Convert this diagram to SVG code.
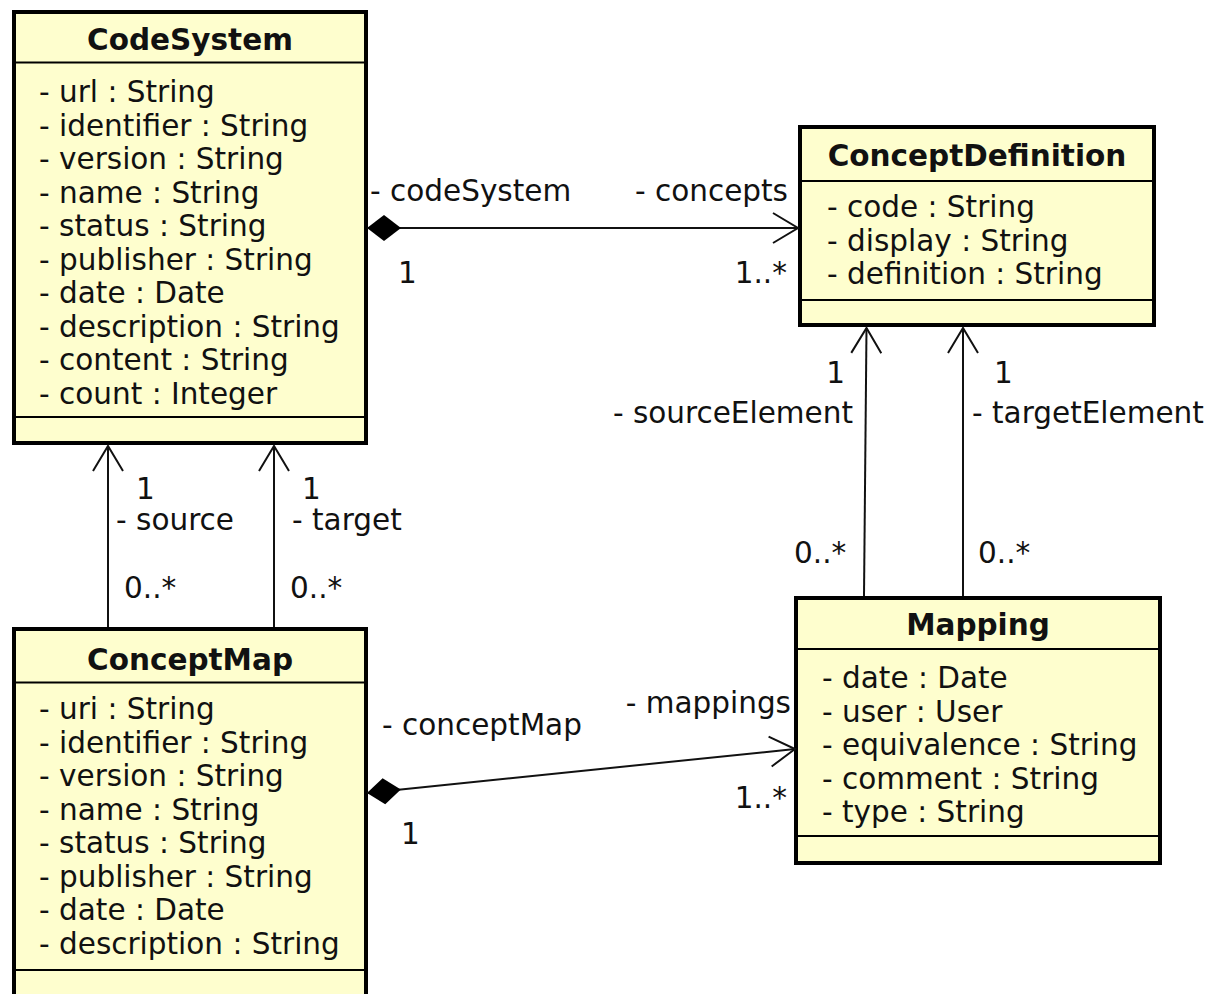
<svg xmlns="http://www.w3.org/2000/svg" width="1214" height="994" viewBox="0 0 1214 994">
<style>
.box{fill:#FEFECE;stroke:#000;stroke-width:4}
.sep{stroke:#000;stroke-width:2}
.title{font-family:"DejaVu Sans",sans-serif;font-weight:bold;font-size:29.5px;fill:#111;text-anchor:middle}
.attr{font-family:"DejaVu Sans",sans-serif;font-size:29.5px;fill:#111}
.lbl{font-family:"DejaVu Sans",sans-serif;font-size:29.5px;fill:#111}
.end{text-anchor:end}
.conn{stroke:#111;stroke-width:2;fill:none}
</style>
<defs>
<marker id="diamond" markerUnits="userSpaceOnUse" viewBox="-1 -15 38 30" markerWidth="38" markerHeight="30" refX="0" refY="0" orient="auto" overflow="visible">
<path d="M0,0 L17,-13 L34,0 L17,13 Z" fill="#000"/>
</marker>
<marker id="open" markerUnits="userSpaceOnUse" viewBox="-28 -17 30 34" markerWidth="30" markerHeight="34" refX="0" refY="0" orient="auto" overflow="visible">
<path d="M-25,-15 L0,0 L-25,15" fill="none" stroke="#111" stroke-width="2"/>
</marker>
</defs>

<g id="CodeSystem">
<rect class="box" x="14" y="12" width="352" height="431"/>
<line class="sep" x1="14" y1="62.5" x2="366" y2="62.5"/>
<line class="sep" x1="14" y1="417" x2="366" y2="417"/>
<text class="title" x="190" y="50">CodeSystem</text>
<text class="attr" x="39" y="102">- url : String</text>
<text class="attr" x="39" y="135.5">- identifier : String</text>
<text class="attr" x="39" y="169">- version : String</text>
<text class="attr" x="39" y="202.5">- name : String</text>
<text class="attr" x="39" y="236">- status : String</text>
<text class="attr" x="39" y="269.5">- publisher : String</text>
<text class="attr" x="39" y="303">- date : Date</text>
<text class="attr" x="39" y="336.5">- description : String</text>
<text class="attr" x="39" y="370">- content : String</text>
<text class="attr" x="39" y="403.5">- count : Integer</text>
</g>

<g id="ConceptDefinition">
<rect class="box" x="800" y="127" width="354" height="198"/>
<line class="sep" x1="800" y1="181" x2="1154" y2="181"/>
<line class="sep" x1="800" y1="300" x2="1154" y2="300"/>
<text class="title" x="977" y="166">ConceptDefinition</text>
<text class="attr" x="827" y="217">- code : String</text>
<text class="attr" x="827" y="250.5">- display : String</text>
<text class="attr" x="827" y="284">- definition : String</text>
</g>

<g id="ConceptMap">
<rect class="box" x="14" y="629" width="352" height="400"/>
<line class="sep" x1="14" y1="682.5" x2="366" y2="682.5"/>
<line class="sep" x1="14" y1="970" x2="366" y2="970"/>
<text class="title" x="190" y="670">ConceptMap</text>
<text class="attr" x="39" y="719">- uri : String</text>
<text class="attr" x="39" y="752.5">- identifier : String</text>
<text class="attr" x="39" y="786">- version : String</text>
<text class="attr" x="39" y="819.5">- name : String</text>
<text class="attr" x="39" y="853">- status : String</text>
<text class="attr" x="39" y="886.5">- publisher : String</text>
<text class="attr" x="39" y="920">- date : Date</text>
<text class="attr" x="39" y="953.5">- description : String</text>
</g>

<g id="Mapping">
<rect class="box" x="796" y="598" width="364" height="265"/>
<line class="sep" x1="796" y1="649" x2="1160" y2="649"/>
<line class="sep" x1="796" y1="836" x2="1160" y2="836"/>
<text class="title" x="978" y="635">Mapping</text>
<text class="attr" x="822" y="688">- date : Date</text>
<text class="attr" x="822" y="721.5">- user : User</text>
<text class="attr" x="822" y="755">- equivalence : String</text>
<text class="attr" x="822" y="788.5">- comment : String</text>
<text class="attr" x="822" y="822">- type : String</text>
</g>

<g id="connectors">
<line class="conn" x1="367" y1="228" x2="798" y2="228" marker-start="url(#diamond)" marker-end="url(#open)"/>
<line class="conn" x1="108" y1="627" x2="108" y2="446" marker-end="url(#open)"/>
<line class="conn" x1="274" y1="627" x2="274" y2="446" marker-end="url(#open)"/>
<line class="conn" x1="864" y1="596" x2="866.5" y2="328" marker-end="url(#open)"/>
<line class="conn" x1="963" y1="596" x2="963" y2="328" marker-end="url(#open)"/>
<line class="conn" x1="367" y1="793" x2="795" y2="749" marker-start="url(#diamond)" marker-end="url(#open)"/>
<text class="lbl" x="370" y="201">- codeSystem</text>
<text class="lbl end" x="788" y="201">- concepts</text>
<text class="lbl" x="398" y="283">1</text>
<text class="lbl end" x="787" y="283">1..*</text>
<text class="lbl" x="136" y="499">1</text>
<text class="lbl" x="116" y="530">- source</text>
<text class="lbl" x="124" y="598">0..*</text>
<text class="lbl" x="302" y="499">1</text>
<text class="lbl" x="292" y="530">- target</text>
<text class="lbl" x="290" y="598">0..*</text>
<text class="lbl end" x="845" y="383">1</text>
<text class="lbl end" x="853" y="423">- sourceElement</text>
<text class="lbl" x="794" y="563">0..*</text>
<text class="lbl" x="994" y="383">1</text>
<text class="lbl" x="972" y="423">- targetElement</text>
<text class="lbl" x="978" y="563">0..*</text>
<text class="lbl" x="382" y="735">- conceptMap</text>
<text class="lbl end" x="791" y="713">- mappings</text>
<text class="lbl end" x="787" y="808">1..*</text>
<text class="lbl" x="401" y="844">1</text>
</g>
</svg>
